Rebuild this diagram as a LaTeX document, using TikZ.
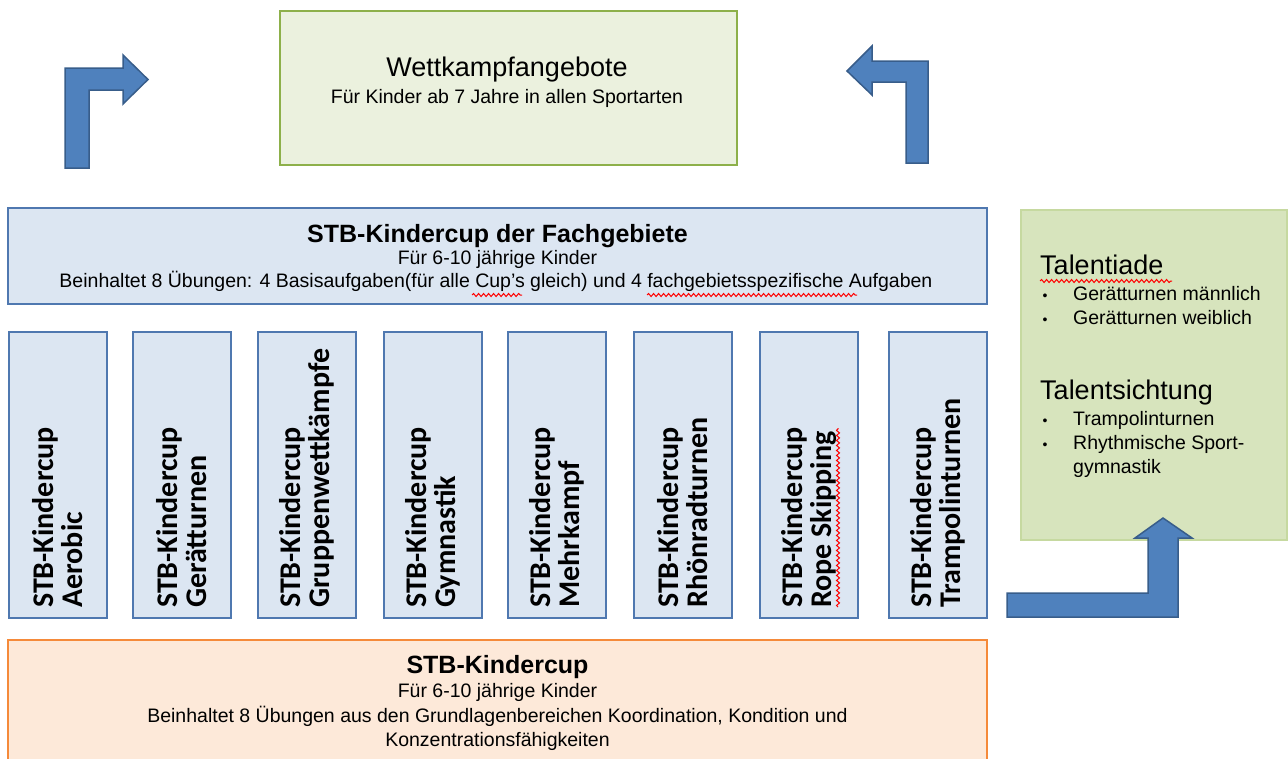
\documentclass[tikz,border=0pt]{standalone}
\usepackage{fontspec}
\setmainfont{Liberation Sans}
\newfontfamily\cupfont{Carlito}
\usetikzlibrary{decorations.pathmorphing}
\definecolor{arrowfill}{HTML}{4F81BD}
\definecolor{arrowline}{HTML}{385D8A}
\definecolor{cupfill}{HTML}{DCE6F2}
\definecolor{cupline}{HTML}{4F78B0}
\definecolor{wkfill}{HTML}{EBF1DE}
\definecolor{wkline}{HTML}{8DB04A}
\definecolor{talfill}{HTML}{D7E4BD}
\definecolor{talline}{HTML}{C6D9A0}
\definecolor{basefill}{HTML}{FDE9D9}
\definecolor{baseedge}{HTML}{F58A3A}
\tikzset{
  boxbase/.style={draw,line width=2pt,inner sep=0pt},
  cupbox/.style={boxbase,draw=cupline,fill=cupfill,minimum width=98pt,minimum height=286pt},
  cuptext/.style={rotate=90,anchor=west,align=left,inner sep=0pt,
    font=\cupfont\bfseries\fontsize{30}{29}\selectfont},
  bigtitle/.style={anchor=base,inner sep=0pt,font=\fontsize{27}{27}\selectfont},
  boldtitle/.style={anchor=base,inner sep=0pt,font=\bfseries\fontsize{25}{25}\selectfont},
  smalltext/.style={anchor=base,inner sep=0pt,font=\fontsize{19.5}{19.5}\selectfont},
  sidetitle/.style={anchor=base west,inner sep=0pt,font=\fontsize{27}{27}\selectfont},
  sideitem/.style={anchor=base west,inner sep=0pt,font=\fontsize{19.5}{19.5}\selectfont},
  bulletmark/.style={anchor=base,inner sep=0pt,font=\fontsize{14}{14}\selectfont},
  blockarrow/.style={fill=arrowfill,draw=arrowline,line width=1.5pt,line join=miter},
  spellmark/.style={draw=red,line width=1pt,decorate,
    decoration={snake,amplitude=1.5pt,segment length=5pt}}
}
\begin{document}
\begin{tikzpicture}[x=1pt,y=-1pt]
\useasboundingbox (0,0) rectangle (1288,758);

% boxes
\node[boxbase,draw=wkline,fill=wkfill,minimum width=457pt,minimum height=154pt] (wk) at (508.5,88) {};
\node[boxbase,draw=cupline,fill=cupfill,minimum width=979pt,minimum height=96pt] (fach) at (497.5,256) {};
\node[boxbase,draw=baseedge,fill=basefill,minimum width=979pt,minimum height=140pt] (base) at (497.5,710) {};
\node[boxbase,draw=talline,fill=talfill,minimum width=266pt,minimum height=330pt] (tal) at (1154,375) {};

\node[bigtitle] (wkTitle) at (507,76) {Wettkampfangebote};
\node[smalltext] (wkSub) at (507,103) {Für Kinder ab 7 Jahre in allen Sportarten};

\node[boldtitle] (fachTitle) at (497.5,242) {STB-Kindercup der Fachgebiete};
\node[smalltext] (fachSub) at (497.5,264) {Für 6-10 jährige Kinder};
\node[smalltext] (fachText) at (496,287) {Beinhaltet 8 Übungen: 4 Basisaufgaben(für alle Cup's gleich) und 4 fachgebietsspezifische Aufgaben};

\node[boldtitle] (baseTitle) at (497.5,673) {STB-Kindercup};
\node[smalltext] (baseSub) at (497.5,697) {Für 6-10 jährige Kinder};
\node[smalltext] (baseText) at (497.5,722) {Beinhaltet 8 Übungen aus den Grundlagenbereichen Koordination, Kondition und};
\node[smalltext] (baseText2) at (497.5,746) {Konzentrationsfähigkeiten};

\foreach \n/\x/\sport in {1/58/Aerobic,2/181.5/Gerätturnen,3/306.5/Gruppenwettkämpfe,
  4/432.5/Gymnastik,5/556.5/Mehrkampf,6/682.5/Rhönradturnen,7/809/Rope Skipping,8/938/Trampolinturnen}
{
  \node[cupbox] (cup\n) at (\x,475) {};
  \node[cuptext] (cuptext\n) at ([yshift=11pt]cup\n.south) {STB-Kindercup\\\sport};
}

\node[sidetitle] (talA) at (1040,274) {Talentiade};
\node[bulletmark] (bA1) at (1045,300) {•};
\node[sideitem] (talA1) at (1073,300) {Gerätturnen männlich};
\node[bulletmark] (bA2) at (1045,324) {•};
\node[sideitem] (talA2) at (1073,324) {Gerätturnen weiblich};
\node[sidetitle] (talB) at (1040,399) {Talentsichtung};
\node[bulletmark] (bB1) at (1045,425) {•};
\node[sideitem] (talB1) at (1073,425) {Trampolinturnen};
\node[bulletmark] (bB2) at (1045,449) {•};
\node[sideitem] (talB2) at (1073,449) {Rhythmische Sport-};
\node[sideitem] (talB3) at (1073,473) {gymnastik};

% arrows
\draw[blockarrow] (65,168) -- (65,68) -- (123,68) -- (123,55) -- (148,79.5) -- (123,104) -- (123,90) -- (89,90) -- (89,168) -- cycle;
\draw[blockarrow] (928,163) -- (928,61) -- (872,61) -- (872,46) -- (847,71) -- (872,95) -- (872,82) -- (906,82) -- (906,163) -- cycle;
\draw[blockarrow] (1007,617) -- (1178,617) -- (1178,538) -- (1192,538) -- (1163,518) -- (1135,538) -- (1148,538) -- (1148,593) -- (1007,593) -- cycle;

% spell check marks
\draw[spellmark] (1040,281) -- (1172,281);
\draw[spellmark] (472,295) -- (522,295);
\draw[spellmark] (647,295) -- (857,295);
\draw[spellmark] (838,607) -- (838,428);
\end{tikzpicture}
\end{document}
